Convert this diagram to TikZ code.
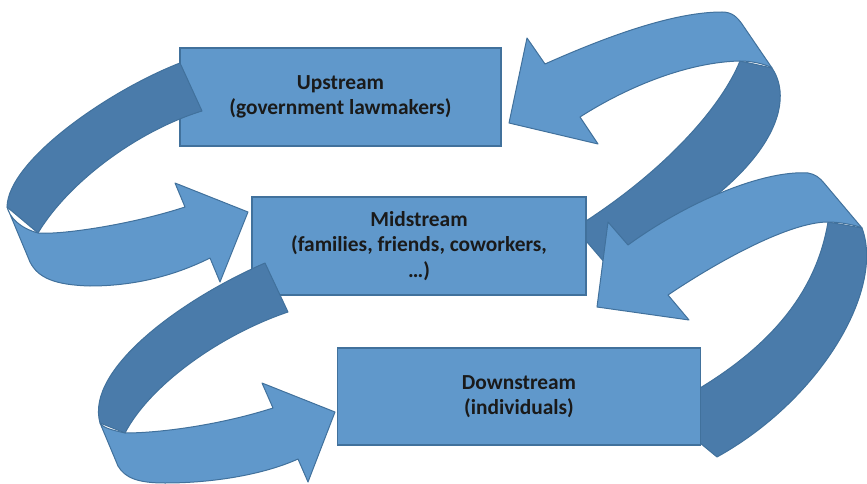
\documentclass[tikz,border=0pt]{standalone}
\usepackage{fontspec}
\setmainfont{Carlito}
\definecolor{boxfill}{RGB}{96,152,203}
\definecolor{boxline}{RGB}{65,113,156}
\definecolor{backside}{RGB}{74,123,170}
\definecolor{txt}{RGB}{26,26,26}
\begin{document}
\begin{tikzpicture}[x=1pt,y=-1pt,
  box/.style={draw=boxline, fill=boxfill, line width=1.2pt, text=txt,
    font=\fontsize{21.4}{25.5}\selectfont\bfseries, align=center, inner sep=0pt},
  front/.style={draw=boxline, fill=boxfill, line width=1pt, line join=round},
  back/.style={draw=boxline, fill=backside, line width=1pt, line join=round}]
\useasboundingbox (0,0) rectangle (867,484);
\clip (0,0) rectangle (867,484);
% arrow from Midstream up to Upstream (right top)
\path[back] (772,68) .. controls (800,110) and (760,190) .. (605,263) -- (575,228)
  .. controls (660,175) and (720,110) .. (740,61) -- cycle;
\path[front] (580,117) -- (598,144) -- (509,123) -- (527,38) -- (545,64)
  .. controls (610,35) and (675,12) .. (722,12)
  .. controls (732,12) and (737,17) .. (742,24) -- (772,68)
  .. controls (765,64) and (752,61) .. (740,61)
  .. controls (690,62) and (630,85) .. (580,117) -- cycle;
% arrow from Downstream up to Midstream (right middle)
\path[back] (862,228) .. controls (885,290) and (820,400) .. (717,457) -- (660,410)
  .. controls (760,360) and (815,300) .. (828,222) -- cycle;
\path[front] (668,295) -- (689,320) -- (597,307) -- (608,222) -- (628,245)
  .. controls (690,200) and (765,170) .. (808,173)
  .. controls (815,174) and (820,178) .. (824,183) -- (862,228)
  .. controls (855,225) and (840,222) .. (828,222)
  .. controls (790,222) and (720,260) .. (668,295) -- cycle;
% boxes
\node[box, minimum width=321pt, minimum height=98pt] (up) at (340.5,97)
  {Upstream\\(government lawmakers)};
\node[box, minimum width=334pt, minimum height=98pt] (mid) at (419,246)
  {Midstream\\(families, friends, coworkers,\\…)};
\node[box, minimum width=363pt, minimum height=97pt] (down) at (519,396.5)
  {Downstream\\(individuals)};
% arrow from Upstream down to Midstream (left top)
\path[back] (180,63) .. controls (110,90) and (8,160) .. (7,207) -- (38,233)
  .. controls (70,180) and (140,130) .. (202,111) -- cycle;
\path[front] (7,207) -- (30,262) .. controls (38,278) and (55,285) .. (90,286)
  .. controls (140,286) and (180,273) .. (210,258) -- (220,282) -- (248,212)
  -- (175,183) -- (185,207) .. controls (130,225) and (60,235) .. (38,233)
  .. controls (20,228) and (10,218) .. (7,207) -- cycle;
% arrow from Midstream down to Downstream (left bottom)
\path[back] (265,263) .. controls (180,300) and (85,370) .. (100,423) -- (125,433)
  .. controls (150,385) and (220,335) .. (288,312) -- cycle;
\path[front] (100,423) -- (118,466) .. controls (125,478) and (138,483) .. (165,483)
  .. controls (215,483) and (265,474) .. (298,459) -- (308,482) -- (335,412)
  -- (262,383) -- (273,408) .. controls (220,425) and (160,433) .. (125,433)
  .. controls (112,430) and (103,428) .. (100,423) -- cycle;
\end{tikzpicture}
\end{document}
